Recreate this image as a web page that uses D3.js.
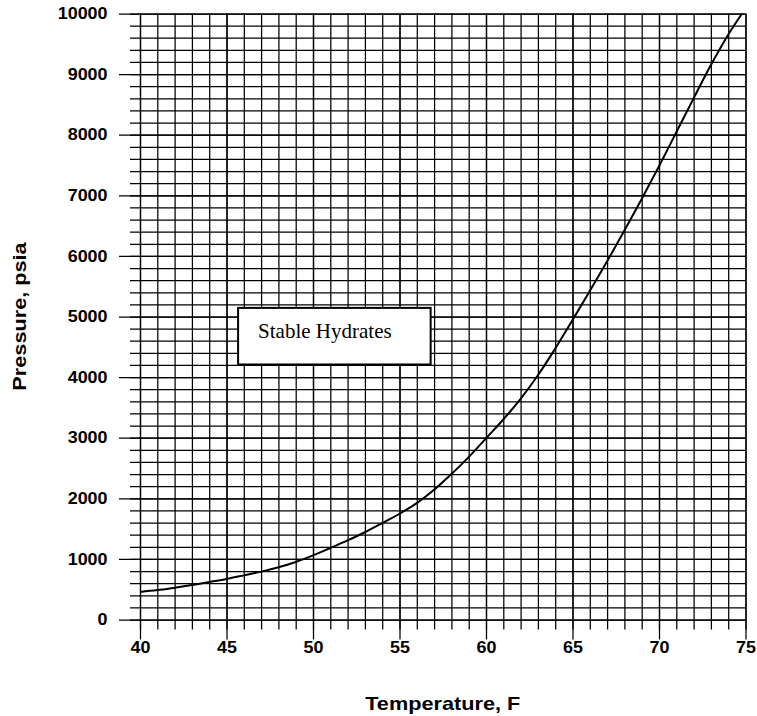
<!DOCTYPE html>
<html>
<head>
<meta charset="utf-8">
<script src="https://cdn.jsdelivr.net/npm/d3@7"></script>
<style>
  body { margin: 0; background: #fff; }
  svg { display: block; }
</style>
</head>
<body>
<div id="wrapper"></div>
<script>
// hydrate formation curve
const temps = [40, 41, 42, 43, 44, 45, 46, 47, 48, 49, 50, 51, 52, 53, 54, 55, 56, 57,
  58, 59, 60, 61, 62, 63, 64, 65, 66, 67, 68, 69, 70, 71, 72, 73, 74, 74.8]
const pressures = [455, 485, 525, 568, 618, 668, 728, 790, 862, 950, 1058, 1180, 1305,
  1440, 1590, 1745, 1920, 2140, 2400, 2680, 2990, 3300, 3640, 4030, 4470, 4940, 5420,
  5910, 6420, 6940, 7480, 8040, 8600, 9150, 9650, 10000]

// grid / tick values
const xMinor = d3.range(40, 76, 1)
const xMajor = [40, 45, 50, 55, 60, 65, 70, 75]
const yMinor = d3.range(0, 10001, 200)
const yMajor = [0, 1000, 2000, 3000, 4000, 5000, 6000, 7000, 8000, 9000, 10000]

const boxLabel = "Stable Hydrates"

const data = temps.map((t, i) => ({ t, p: pressures[i] }))

function drawChart() {
  const dimensions = {
    width: 757,
    height: 716,
    margin: { top: 13.5, right: 11.5, bottom: 96.5, left: 140 },
  }
  dimensions.boundedWidth = dimensions.width
    - dimensions.margin.left - dimensions.margin.right
  dimensions.boundedHeight = dimensions.height
    - dimensions.margin.top - dimensions.margin.bottom

  const W = dimensions.boundedWidth
  const H = dimensions.boundedHeight
  const stretch = 1.12 // the labels in the picture are a bit wide

  const svg = d3.select("#wrapper")
    .append("svg")
    .attr("width", dimensions.width)
    .attr("height", dimensions.height)
    .style("font-family", "'Liberation Sans', Arial, sans-serif")

  const xScale = d3.scaleLinear().domain([40, 75]).range([0, W])
  const yScale = d3.scaleLinear().domain([0, 10000]).range([H, 0])

  const bounds = svg.append("g")
    .attr("transform", `translate(${dimensions.margin.left},${dimensions.margin.top})`)

  // vertical grid, hanging from the top so ticks poke out below the plot
  const xMinorAxis = bounds.append("g")
    .call(d3.axisBottom(xScale).tickValues(xMinor).tickSize(H + 10).tickFormat(""))
  const xMajorAxis = bounds.append("g")
    .call(d3.axisBottom(xScale).tickValues(xMajor).tickSize(H + 20)
      .tickPadding(2.5).tickFormat(d3.format("d")))

  // horizontal grid, hanging from the right edge
  const yMinorAxis = bounds.append("g")
    .attr("transform", `translate(${W},0)`)
    .call(d3.axisLeft(yScale).tickValues(yMinor).tickSize(W + 10).tickFormat(""))
  const yMajorAxis = bounds.append("g")
    .attr("transform", `translate(${W},0)`)
    .call(d3.axisLeft(yScale).tickValues(yMajor).tickSize(W + 21)
      .tickFormat(d3.format("d")))

  ;[xMinorAxis, xMajorAxis, yMinorAxis, yMajorAxis].forEach(a => {
    a.select(".domain").remove()
    a.attr("color", "#000")
      .attr("font-size", 16)
      .attr("font-family", "'Liberation Sans', Arial, sans-serif")
      .attr("font-weight", "bold")
    a.selectAll("line").attr("stroke-width", 1.25)
  })

  xMajorAxis.selectAll("text")
    .attr("transform", `scale(${stretch},1)`)

  yMajorAxis.selectAll("text")
    .attr("x", -(W + 21 + 11.5) / stretch)
    .attr("transform", `scale(${stretch},1)`)

  // curve
  const line = d3.line()
    .x(d => xScale(d.t))
    .y(d => yScale(d.p))
    .curve(d3.curveCatmullRom)

  bounds.append("path")
    .datum(data)
    .attr("fill", "none")
    .attr("stroke", "#000")
    .attr("stroke-width", 2)
    .attr("d", line)

  // annotation box
  const bx0 = xScale(45.67), bx1 = xScale(56.8)
  const by0 = yScale(5142), by1 = yScale(4208)
  bounds.append("rect")
    .attr("x", bx0)
    .attr("y", by0)
    .attr("width", bx1 - bx0)
    .attr("height", by1 - by0)
    .attr("fill", "#fff")
    .attr("stroke", "#000")
    .attr("stroke-width", 2)

  bounds.append("text")
    .attr("x", bx0 + 20)
    .attr("y", by0 + 30)
    .style("font-family", "'Liberation Serif', 'Times New Roman', serif")
    .style("font-size", "21px")
    .attr("fill", "#000")
    .text(boxLabel)

  // axis titles
  svg.append("text")
    .attr("transform", `translate(${dimensions.margin.left + W / 2},710) scale(1.24,1)`)
    .attr("text-anchor", "middle")
    .style("font-size", "17.5px")
    .style("font-weight", "bold")
    .text("Temperature, F")

  svg.append("text")
    .attr("transform", `translate(25.5,${dimensions.margin.top + H / 2}) rotate(-90) scale(1.24,1)`)
    .attr("text-anchor", "middle")
    .style("font-size", "17.5px")
    .style("font-weight", "bold")
    .text("Pressure, psia")
}
drawChart()
</script>
</body>
</html>
